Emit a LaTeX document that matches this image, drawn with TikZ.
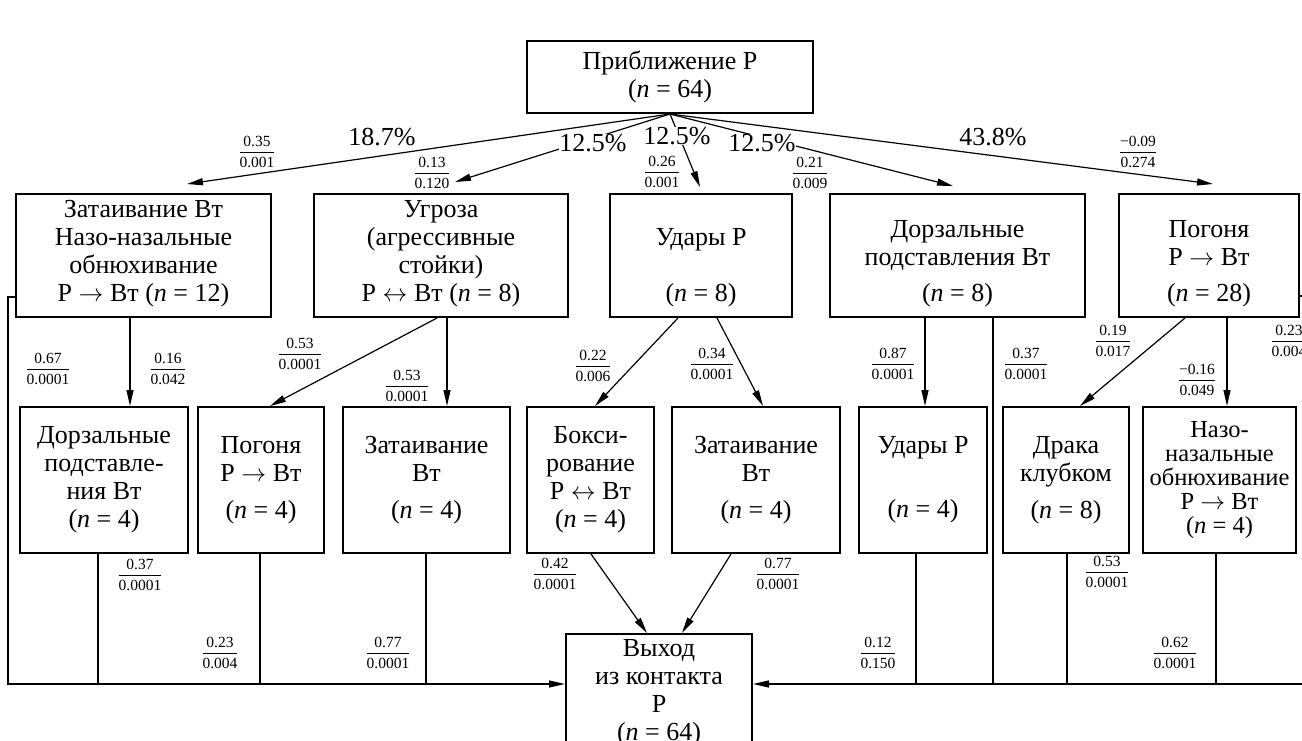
\documentclass[tikz,border=0pt]{standalone}
\usepackage{amsmath}
\usepackage{fontspec}
\setmainfont{Liberation Serif}
\usetikzlibrary{arrows.meta}
\newcommand{\pval}[2]{$\genfrac{}{}{1.3pt}{0}{\text{#1}}{\text{#2}}$}
\newcommand{\nval}[1]{(\textit{n} = #1)}
\tikzset{px/.style={x=1pt,y=-1pt,line width=1.2pt},
  box/.style={draw,line width=2pt,inner sep=0pt,align=center,font=\fontsize{26}{28}\selectfont},
  txt/.style={inner sep=0pt,align=center,font=\fontsize{26}{28}\selectfont},
  pct/.style={fill=white,inner sep=.5pt,font=\fontsize{26}{28}\selectfont},
  val/.style={inner sep=0pt,font=\fontsize{15.5}{17}\selectfont},
  arr/.style={-{Triangle[length=16pt,width=7pt]}}}

\begin{document}
\begin{tikzpicture}[px]
  \useasboundingbox (0,0) rectangle (1302,740);
  \clip (0,0) rectangle (1302,740);
  % top and second row
  \node[box,minimum width=286,minimum height=72] (top) at (670,77) {Приближение Р\\\nval{64}};
  \node[box,minimum width=255,minimum height=123] (zat) at (143.5,255.5) {};
  \node[txt,above] (zat-t) at ([yshift=10]zat.south) {Затаивание Вт\\Назо-назальные\\обнюхивание\\Р $\rightarrow$ Вт \nval{12}};
  \node[box,minimum width=254,minimum height=123] (ugr) at (441,255.5) {};
  \node[txt,above] (ugr-t) at ([yshift=10]ugr.south) {Угроза\\(агрессивные\\стойки)\\Р $\leftrightarrow$ Вт \nval{8}};
  \node[box,minimum width=182,minimum height=123] (udr) at (701,255.5) {};
  \node[txt,above] (udr-t) at ([yshift=10]udr.south) {Удары Р\\[28pt]\nval{8}};
  \node[box,minimum width=255,minimum height=123] (dor) at (957.5,255.5) {};
  \node[txt,above] (dor-t) at ([yshift=10]dor.south) {Дорзальные\\подставления Вт\\[8pt]\nval{8}};
  \node[box,minimum width=180,minimum height=123] (pog) at (1209,255.5) {};
  \node[txt,above] (pog-t) at ([yshift=10]pog.south) {Погоня\\Р $\rightarrow$ Вт\\[8pt]\nval{28}};
  % third row
  \node[box,minimum width=168,minimum height=146] (dor3) at (104,480) {Дорзальные\\подставле-\\ния Вт\\\nval{4}};
  \node[box,minimum width=126,minimum height=146] (pog3) at (261,480) {Погоня\\Р $\rightarrow$ Вт\\[9pt]\nval{4}};
  \node[box,minimum width=167,minimum height=146] (zat3) at (426.5,480) {Затаивание\\Вт\\[9pt]\nval{4}};
  \node[box,minimum width=127,minimum height=146] (box3) at (590.5,480) {Бокси-\\рование\\Р $\leftrightarrow$ Вт\\\nval{4}};
  \node[box,minimum width=168,minimum height=146] (zat3b) at (756,480) {Затаивание\\Вт\\[9pt]\nval{4}};
  \node[box,minimum width=128,minimum height=146] (udr3) at (923,480) {Удары Р\\[36pt]\nval{4}};
  \node[box,minimum width=126,minimum height=146] (drk) at (1066,480) {Драка\\клубком\\[9pt]\nval{8}};
  \node[box,minimum width=153,minimum height=146,font=\fontsize{24.5}{24}\selectfont] (naz) at (1219.5,480) {Назо-\\назальные\\обнюхивание\\Р $\rightarrow$ Вт\\\nval{4}};
  \node[box,anchor=north,minimum width=186,inner ysep=5pt] (exit) at (659,633) {Выход\\из контакта\\Р\\\nval{64}};
  \coordinate (bus-l) at (8,684);
  \coordinate (bus-r) at (1312,684);
  % connectors
  \draw[arr] (top.south) -- ([shift={(43.5,-9)}]zat.north);
  \draw[arr] (top.south) -- ([shift={(14,-11)}]ugr.north);
  \draw[arr] (top.south) -- ([shift={(-1,-6)}]udr.north);
  \draw[arr] (top.south) -- ([shift={(-4.5,-7)}]dor.north);
  \draw[arr] (top.south) -- ([shift={(4,-9)}]pog.north);
  \draw[arr] ([xshift=-13.5]zat.south) -- ([xshift=26]dor3.north);
  \draw[arr] ([xshift=-4]ugr.south) -- ([xshift=9]pog3.north);
  \draw[arr] ([xshift=6]ugr.south) -- ([xshift=20.5]zat3.north);
  \draw[arr] ([xshift=-23]udr.south) -- ([xshift=4.5]box3.north);
  \draw[arr] ([xshift=16]udr.south) -- ([xshift=7]zat3b.north);
  \draw[arr] ([xshift=-32.5]dor.south) -- ([xshift=2]udr3.north);
  \draw[arr] ([xshift=-24]pog.south) -- ([xshift=14]drk.north);
  \draw[arr] ([xshift=18]pog.south) -- ([xshift=7.5]naz.north);
  \draw[arr] ([xshift=.5]box3.south) -- ([xshift=-12]exit.north);
  \draw[arr] ([xshift=-25]zat3b.south) -- ([xshift=23]exit.north);
  \draw[arr] ([yshift=21]zat.south west) -| (bus-l) -- (bus-l -| exit.west);
  \draw[arr] ([yshift=22]pog.south east) -| (bus-r) -- (bus-r -| exit.east);
  \draw ([xshift=-6]dor3.south) |- (bus-l);\draw ([xshift=-1]pog3.south) |- (bus-l);
  \draw ([xshift=-.5]zat3.south) |- (bus-l);
  \draw ([xshift=-7]udr3.south) |- (bus-r);\draw ([xshift=35.5]dor.south) |- (bus-r);
  \draw ([xshift=1]drk.south) |- (bus-r);\draw ([xshift=-3.5]naz.south) |- (bus-r);
  % shares
  \node[pct] (p-zat) at (382,137) {18.7\%};
  \node[pct] (p-ugr) at (593,143) {12.5\%};
  \node[pct] (p-udr) at (677,136) {12.5\%};
  \node[pct] (p-dor) at (762,143) {12.5\%};
  \node[pct] (p-pog) at (993,137) {43.8\%};
  % r / p values
  \node[val] (v-zat) at (257,152) {\pval{0.35}{0.001}};
  \node[val] (v-ugr) at (432,173) {\pval{0.13}{0.120}};
  \node[val] (v-udr) at (662,172) {\pval{0.26}{0.001}};
  \node[val] (v-dor) at (810,173) {\pval{0.21}{0.009}};
  \node[val] (v-pog) at (1138,152) {\pval{−0.09}{0.274}};
  \node[val] (v-zat-out) at (48,369) {\pval{0.67}{0.0001}};
  \node[val] (v-zat-dor3) at (168,369) {\pval{0.16}{0.042}};
  \node[val] (v-ugr-pog3) at (300,354) {\pval{0.53}{0.0001}};
  \node[val] (v-ugr-zat3) at (407,386) {\pval{0.53}{0.0001}};
  \node[val] (v-udr-box3) at (593,366) {\pval{0.22}{0.006}};
  \node[val] (v-udr-zat3b) at (712,364) {\pval{0.34}{0.0001}};
  \node[val] (v-dor-udr3) at (893,364) {\pval{0.87}{0.0001}};
  \node[val] (v-dor-out) at (1026,364) {\pval{0.37}{0.0001}};
  \node[val] (v-pog-drk) at (1113,341) {\pval{0.19}{0.017}};
  \node[val] (v-pog-naz) at (1197,380) {\pval{−0.16}{0.049}};
  \node[val] (v-pog-out) at (1289,341) {\pval{0.23}{0.004}};
  \node[val] (v-dor3) at (140,575) {\pval{0.37}{0.0001}};
  \node[val] (v-pog3) at (220,653) {\pval{0.23}{0.004}};
  \node[val] (v-zat3) at (388,653) {\pval{0.77}{0.0001}};
  \node[val] (v-box3) at (555,574) {\pval{0.42}{0.0001}};
  \node[val] (v-zat3b) at (778,574) {\pval{0.77}{0.0001}};
  \node[val] (v-udr3) at (878,653) {\pval{0.12}{0.150}};
  \node[val] (v-drk) at (1107,572) {\pval{0.53}{0.0001}};
  \node[val] (v-naz) at (1175,653) {\pval{0.62}{0.0001}};
\end{tikzpicture}
\end{document}
